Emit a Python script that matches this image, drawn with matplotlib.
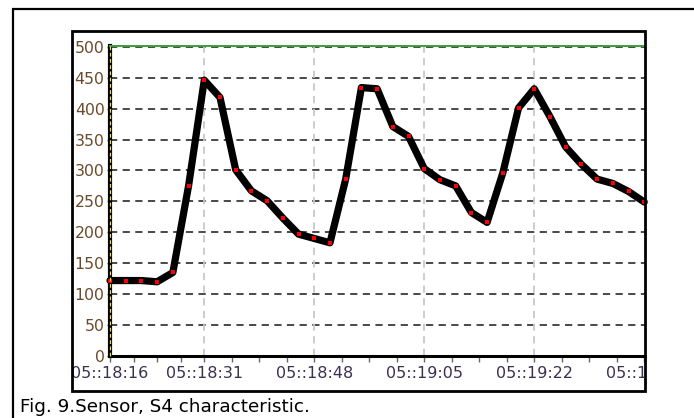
import matplotlib
matplotlib.use("Agg")
import matplotlib.pyplot as plt
from matplotlib.patches import Rectangle
from matplotlib.transforms import Bbox, TransformedBbox
from matplotlib.ticker import FixedLocator, NullFormatter

plt.rcParams['font.family'] = ['DejaVu Sans']

# Sensor S4 readings, one per sample
sample_values = [122, 122, 122, 120, 135, 275, 446, 418, 301,
                 267, 251, 223, 197, 190, 183, 286, 434, 432,
                 371, 355, 303, 285, 275, 232, 216, 296,
                 401, 432, 387, 338, 310, 286, 279, 266, 249]
sample_index = list(range(len(sample_values)))

# Time labels and the samples they sit on
time_label_index = [0, 6, 13, 20, 27, 34]
time_labels = ['05::18:16', '05::18:31', '05::18:48', '05::19:05', '05::19:22', '05::19:39']
y_ticks = [0, 50, 100, 150, 200, 250, 300, 350, 400, 450, 500]
caption = "Fig. 9.Sensor, S4 characteristic."

W, H = 694, 418
fig = plt.figure(figsize=(W / 100, H / 100), dpi=100)
fig.patch.set_facecolor('white')

def fx(px):
    return px / W

def fy(py):
    return 1 - py / H

# outer figure box and inner chart frame
fig.add_artist(Rectangle((fx(13), fy(520)), fx(720), fy(9) - fy(520), transform=fig.transFigure,
                         fill=False, edgecolor='black', linewidth=1.6))
frame_l, frame_t, frame_r, frame_b = 72, 31, 645, 391
fig.add_artist(Rectangle((fx(frame_l), fy(frame_b)), fx(frame_r - frame_l), fy(frame_t) - fy(frame_b),
                         transform=fig.transFigure, fill=False, edgecolor='black', linewidth=2.0, zorder=5))

ax = fig.add_axes([fx(110), fy(356), fx(645 - 110), fy(45.5) - fy(356)])
ax.set_xlim(0, 34.05)
ax.set_ylim(0, 502)

# grid
for v in y_ticks:
    ax.axhline(v, color='#3a3a3a', linewidth=1.3, linestyle=(0, (4, 3)), zorder=1)
for i in time_label_index[1:-1]:
    ax.axvline(i, color='#c8c8c8', linewidth=1.3, linestyle=(0, (4, 3)), zorder=1)

ax.plot(sample_index, sample_values, color='black', linewidth=5.2, solid_joinstyle='round',
        solid_capstyle='round', zorder=3, clip_on=False)
ax.plot(sample_index, sample_values, linestyle='none', marker='s', markersize=2.3,
        markerfacecolor='#ff0000', markeredgewidth=0, zorder=4, clip_on=False)

# spines
ax.spines['top'].set_color('#3aa03a')
ax.spines['top'].set_linewidth(1.4)
ax.spines['right'].set_visible(False)
ax.spines['bottom'].set_color('black')
ax.spines['bottom'].set_linewidth(2.2)
ax.spines['left'].set_color('black')
ax.spines['left'].set_linewidth(3.0)
ax.axvline(0, color='#f0e040', linewidth=0.9, linestyle=(0, (3, 2)), zorder=6, clip_on=False)

ax.set_yticks(y_ticks)
ax.set_yticklabels([str(v) for v in y_ticks])
ax.tick_params(axis='y', length=2, width=1, color='#555555', pad=2,
               labelsize=11.3, labelcolor='#6b4a2a')

ax.xaxis.set_major_locator(FixedLocator(time_label_index))
ax.set_xticklabels(time_labels)
minor = []
for a, b in zip(time_label_index[:-1], time_label_index[1:]):
    step = (b - a) / 4
    minor += [a + step * k for k in (1, 2, 3)]
ax.xaxis.set_minor_locator(FixedLocator(minor))
ax.xaxis.set_minor_formatter(NullFormatter())
ax.tick_params(axis='x', which='both', length=4, width=1, color='#666666', pad=3,
               labelsize=11.5, labelcolor='#3a3050')

# clip tick labels to the chart frame
clip = TransformedBbox(Bbox.from_extents(fx(frame_l + 1), fy(frame_b - 1), fx(frame_r - 1), fy(frame_t + 1)),
                       fig.transFigure)
for t in ax.xaxis.get_major_ticks():
    t.label1.set_clip_box(clip)
    t.label1.set_clip_on(True)

fig.text(fx(20), fy(412), caption, fontsize=13.2, color='black', va='baseline', ha='left')

fig.savefig('out.png', dpi=100, facecolor='white')
